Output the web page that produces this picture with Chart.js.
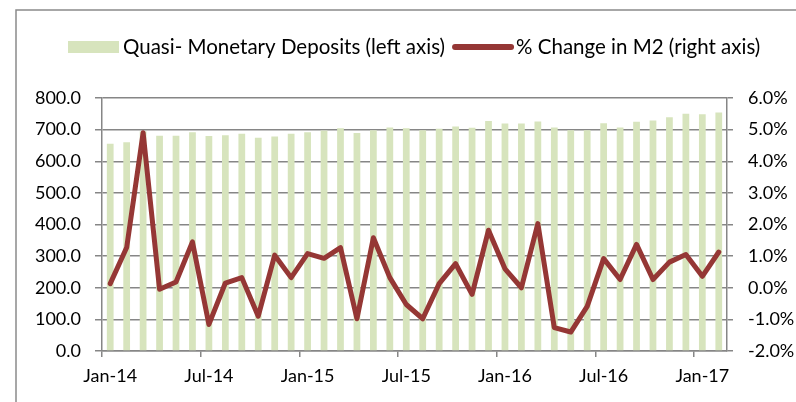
<!DOCTYPE html>
<html>
<head>
<meta charset="utf-8">
<script src="https://cdn.jsdelivr.net/npm/chart.js@4.4.1/dist/chart.umd.min.js"></script>
<style>
  html, body { margin: 0; padding: 0; background: #ffffff; }
  #wrap { position: relative; width: 796px; height: 402px; }
</style>
</head>
<body>
<div id="wrap"><canvas id="c"></canvas></div>
<script>
// ---- data ----
const months = [
  "Jan-14","Feb-14","Mar-14","Apr-14","May-14","Jun-14","Jul-14","Aug-14","Sep-14","Oct-14","Nov-14","Dec-14",
  "Jan-15","Feb-15","Mar-15","Apr-15","May-15","Jun-15","Jul-15","Aug-15","Sep-15","Oct-15","Nov-15","Dec-15",
  "Jan-16","Feb-16","Mar-16","Apr-16","May-16","Jun-16","Jul-16","Aug-16","Sep-16","Oct-16","Nov-16","Dec-16",
  "Jan-17","Feb-17"
];
const quasiMonetaryDeposits = [
  655,660,695,681,681,692,680,682,687,674,678,687,
  692,697,704,689,698,707,704,698,703,710,706,727,
  719,719,726,707,698,698,720,707,725,729,739,750,
  749,754
];
const m2PctChange = [
  0.13,1.27,4.9,-0.05,0.18,1.45,-1.16,0.15,0.32,-0.9,1.03,0.32,
  1.08,0.93,1.27,-0.98,1.58,0.32,-0.53,-0.98,0.13,0.76,-0.21,1.82,
  0.6,0.0,2.03,-1.26,-1.4,-0.59,0.92,0.26,1.37,0.26,0.81,1.05,
  0.36,1.13
];
const xTickEvery = 6;
const leftTicks = [0,100,200,300,400,500,600,700,800];
const rightTicks = [-2,-1,0,1,2,3,4,5,6];
const legendNames = ["Quasi- Monetary Deposits (left axis)", "% Change in M2 (right axis)"];

// ---- styles ----
const FONT = "Lato, 'DejaVu Sans', sans-serif";
const FS = 18;
const LEGEND_FS = 20.5;
const GRID = "#868686";
const BAR = "#D7E4BD";
const LINE = "#953735";

const framePlugin = {
  id: 'frame',
  beforeDraw(chart) {
    const ctx = chart.ctx;
    ctx.save();
    ctx.fillStyle = '#ffffff';
    ctx.fillRect(0, 0, chart.width, chart.height);
    ctx.strokeStyle = '#8a8a8a';
    ctx.lineWidth = 1.5;
    ctx.beginPath();
    ctx.moveTo(16, chart.height);
    ctx.lineTo(16, 10);
    ctx.lineTo(chart.width, 10);
    ctx.stroke();
    ctx.restore();
  }
};

const legendPlugin = {
  id: 'customLegend',
  afterDraw(chart) {
    const ctx = chart.ctx;
    const y = 47;
    ctx.save();
    ctx.font = LEGEND_FS + "px " + FONT;
    ctx.textBaseline = 'middle';
    // bar swatch
    ctx.fillStyle = BAR;
    ctx.fillRect(68, 41, 51, 12);
    ctx.fillStyle = '#000000';
    ctx.textAlign = 'left';
    ctx.fillText(legendNames[0], 123, y);
    const w0 = ctx.measureText(legendNames[0]).width;
    const lx = 123 + w0 + 10;
    ctx.strokeStyle = LINE;
    ctx.lineWidth = 6;
    ctx.lineCap = 'round';
    ctx.beginPath();
    ctx.moveTo(lx, y);
    ctx.lineTo(lx + 56, y);
    ctx.stroke();
    ctx.fillText(legendNames[1], lx + 61, y);
    ctx.restore();
  }
};

new Chart(document.getElementById('c'), {
  data: {
    labels: months,
    datasets: [
      {
        type: 'line',
        label: legendNames[1],
        data: m2PctChange,
        yAxisID: 'y1',
        borderColor: LINE,
        backgroundColor: LINE,
        borderWidth: 5,
        borderJoinStyle: 'round',
        borderCapStyle: 'round',
        pointRadius: 0,
        tension: 0,
        order: 0
      },
      {
        type: 'bar',
        label: legendNames[0],
        data: quasiMonetaryDeposits,
        yAxisID: 'y',
        backgroundColor: BAR,
        borderWidth: 0,
        categoryPercentage: 1.0,
        barPercentage: 0.41,
        order: 1
      }
    ]
  },
  options: {
    responsive: true,
    maintainAspectRatio: false,
    animation: false,
    layout: { padding: { top: 98, left: 0, right: 0, bottom: 0 } },
    plugins: {
      legend: { display: false },
      tooltip: { enabled: false }
    },
    scales: {
      x: {
        type: 'category',
        offset: true,
        grid: {
          offset: true,
          drawOnChartArea: false,
          drawTicks: true,
          tickLength: 6,
          lineWidth: 1.5,
          color: (c) => (c.index !== undefined && c.index % xTickEvery === 0) ? GRID : 'rgba(0,0,0,0)'
        },
        border: { display: true, color: GRID, width: 1.5 },
        ticks: {
          autoSkip: false,
          maxRotation: 0,
          minRotation: 0,
          padding: 8,
          color: '#000000',
          font: { family: FONT, size: FS },
          callback: (v, i) => (i % xTickEvery === 0 ? months[i] : '')
        },
        afterFit: (s) => { s.height = 51; }
      },
      y: {
        position: 'left',
        min: 0,
        max: 800,
        afterBuildTicks: (s) => { s.ticks = leftTicks.map(v => ({ value: v })); },
        grid: {
          color: GRID,
          lineWidth: 1.5,
          drawTicks: true,
          tickLength: 7
        },
        border: { display: true, color: GRID, width: 1.5 },
        ticks: {
          padding: 14,
          color: '#000000',
          font: { family: FONT, size: FS },
          callback: (v) => Number(v).toFixed(1)
        },
        afterFit: (s) => { s.width = 102; }
      },
      y1: {
        position: 'right',
        min: -2,
        max: 6,
        afterBuildTicks: (s) => { s.ticks = rightTicks.map(v => ({ value: v })); },
        grid: {
          drawOnChartArea: false,
          drawTicks: true,
          tickLength: 6,
          color: GRID,
          lineWidth: 1.5
        },
        border: { display: true, color: GRID, width: 1.5 },
        ticks: {
          padding: 15,
          color: '#000000',
          font: { family: FONT, size: FS },
          callback: (v) => Number(v).toFixed(1) + '%'
        },
        afterFit: (s) => { s.width = 69; }
      }
    }
  },
  plugins: [framePlugin, legendPlugin]
});
</script>
</body>
</html>
